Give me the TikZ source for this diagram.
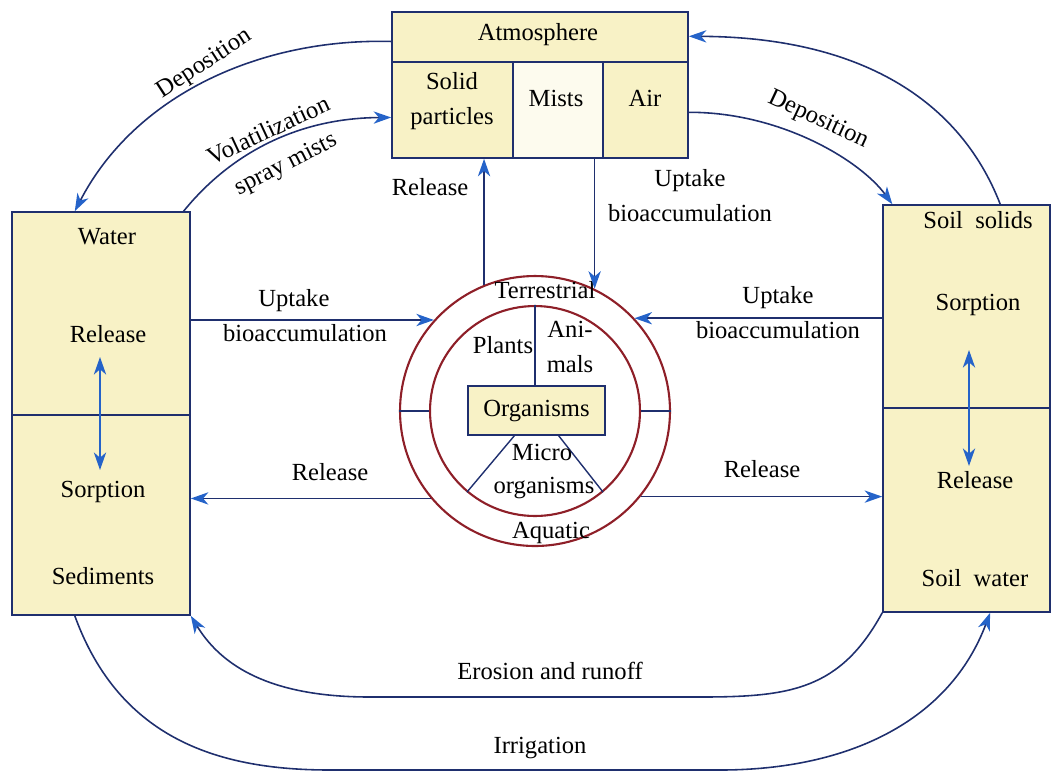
\documentclass[tikz,border=0pt]{standalone}
\usepackage{fontspec}
\setmainfont{Liberation Serif}
\usetikzlibrary{arrows.meta,calc,fit}
\definecolor{linec}{HTML}{1F2F6E}
\definecolor{arrc}{HTML}{2563C9}
\definecolor{ybox}{HTML}{F8F2C6}
\definecolor{cred}{HTML}{8E1F28}
\tikzset{
  lbl/.style={font=\fontsize{14}{20}\selectfont, align=center, inner sep=1pt, text=black},
  area/.style={draw=linec, line width=0.9pt, fill=ybox, inner sep=0pt},
  frame/.style={draw=linec, line width=0.9pt, inner sep=0pt},
  tip/.style={-{Stealth[length=10pt,width=7pt,inset=3pt,color=arrc]}},
  conn/.style={draw=linec, line width=0.9pt, tip},
  dbl/.style={draw=arrc, line width=1pt, {Stealth[length=10pt,width=7pt,inset=3pt,color=arrc]}-{Stealth[length=10pt,width=7pt,inset=3pt,color=arrc]}},
  ring/.style={circle, draw=cred, line width=1.2pt, inner sep=0pt},
  thin/.style={draw=linec, line width=0.8pt},
}
\begin{document}
\begin{tikzpicture}[x=0.02cm,y=-0.02cm]
\useasboundingbox (0,0) rectangle (1051,772);

% Atmosphere
\node[area, fit={(392,12)(688,62)}] (atmh) {};
\node[area, fit={(392,62)(513,158)}] (solid) {};
\node[area, fill=white!70!ybox, fit={(513,62)(603,158)}] (mists) {};
\node[area, fit={(603,62)(688,158)}] (air) {};
\node[frame, fit={(392,12)(688,158)}] (atm) {};
\node[lbl] (tatm) at (538,35) {Atmosphere};
\node[lbl] (tsolid) at (452,101) {Solid\\particles};
\node[lbl] (tmists) at (556,98) {Mists};
\node[lbl] (tair) at (645,98) {Air};

% Water
\node[area, fit={(12,212)(190,415)}] (wtop) {};
\node[area, fit={(12,415)(190,615)}] (wbot) {};
\node[frame, fit={(12,212)(190,615)}] (water) {};
\node[lbl] (twater) at (107,237) {Water};
\node[lbl] (twrel) at (108,334) {Release};
\node[lbl] (twsorp) at (103,492) {Sorption};
\node[lbl] (twsed) at (103,576) {Sediments};
\coordinate (w1) at (100,357);
\coordinate (w2) at (100,470);
\draw[dbl] (w1) -- (w2);

% Soil
\node[area, fit={(883,205)(1050,408)}] (stop) {};
\node[area, fit={(883,408)(1050,612)}] (sbot) {};
\node[frame, fit={(883,205)(1050,612)}] (soil) {};
\node[lbl] (tsolids) at (978,220) {Soil\enspace solids};
\node[lbl] (tssorp) at (978,305) {Sorption};
\node[lbl] (tsrel) at (975,480) {Release};
\node[lbl] (tswat) at (975,578) {Soil\enspace water};
\coordinate (s1) at (969,350);
\coordinate (s2) at (969,466);
\draw[dbl] (s1) -- (s2);

% Organisms
\node[ring, minimum size=5.4cm] (outer) at (535,411) {};
\node[ring, minimum size=4.2cm] (inner) at (535,411) {};
\node[draw=linec, line width=0.8pt, fill=ybox, minimum width=2.74cm, minimum height=0.98cm, inner sep=0pt, font=\fontsize{14}{20}\selectfont] (org) at (536.5,410.5) {Organisms};
\draw[thin] (outer.west) -- (inner.west);
\draw[thin] (outer.east) -- (inner.east);
\draw[thin] (inner.north) -- (org.north -| inner.north);
\draw[thin] ($(org.south west)!0.34!(org.south east)$) -- (inner.230);
\draw[thin] ($(org.south west)!0.66!(org.south east)$) -- (inner.310);
\node[lbl] (tterr) at (545,290) {Terrestrial};
\node[lbl] (tplants) at (503,345) {Plants};
\node[lbl] (tanim) at (570,347) {Ani-\\mals};
\node[lbl] (tmicro) at (542,452) {Micro};
\node[lbl] (torgs) at (544,488) {organisms};
\node[lbl] (taqua) at (551,533) {Aquatic};

% Atmosphere <-> water
\draw[conn] ($(atm.north west)!0.205!(atm.south west)$) .. controls (260,38) and (135,95) .. ($(water.north west)!0.354!(water.north east)$);
\node[lbl, rotate=33] (tdep1) at (205,64) {Deposition};
\draw[conn] ($(water.north west)!0.96!(water.north east)$) .. controls (225,160) and (290,118) .. ($(atm.north west)!0.72!(atm.south west)$);
\node[lbl, rotate=25] (tvol) at (268,130) {Volatilization};
\node[lbl, rotate=27] (tspray) at (286,165) {spray mists};

% Atmosphere <-> soil
\draw[conn] ($(atm.north east)!0.685!(atm.south east)$) .. controls (780,112) and (860,160) .. ($(soil.north west)!0.06!(soil.north east)$);
\node[lbl, rotate=-25] (tdep2) at (818,120) {Deposition};
\draw[conn] ($(soil.north west)!0.70!(soil.north east)$) .. controls (960,100) and (860,37) .. ($(atm.north east)!0.17!(atm.south east)$);

% Atmosphere <-> organisms
\draw[conn] (outer.112.65) -- (outer.112.65 |- atm.south);
\node[lbl] (trel0) at (430,187) {Release};
\draw[conn] (atm.south -| outer.64.56) -- (outer.64.56);
\node[lbl] (tupt0) at (690,196) {Uptake\\bioaccumulation};

% Water/soil <-> organisms
\draw[conn] (water.east |- outer.138.8) -- (outer.138.8);
\node[lbl] (tupt1) at (305,316) {\hspace*{-0.9em}Uptake\\bioaccumulation};
\draw[conn] (soil.west |- outer.43.5) -- (outer.43.5);
\node[lbl] (tupt2) at (778,313) {Uptake\\bioaccumulation};
\draw[conn] (outer.220.2) -- (water.east |- outer.220.2);
\node[lbl] (trel1) at (330,472) {Release};
\draw[conn] (outer.321.5) -- (soil.west |- outer.321.5);
\node[lbl] (trel2) at (762,469) {Release};

% Bottom flows
\draw[conn] (soil.south west) .. controls (840,690) and (790,697) .. (700,697) -- (370,697) .. controls (280,697) and (225,672) .. (water.south east);
\node[lbl] (tero) at (550,671) {Erosion and runoff};
\draw[conn] ($(water.south west)!0.354!(water.south east)$) .. controls (120,740) and (220,770) .. (330,770) -- (720,770) .. controls (850,770) and (950,720) .. ($(soil.south west)!0.64!(soil.south east)$);
\node[lbl] (tirr) at (540,748) {Irrigation};
\end{tikzpicture}
\end{document}
